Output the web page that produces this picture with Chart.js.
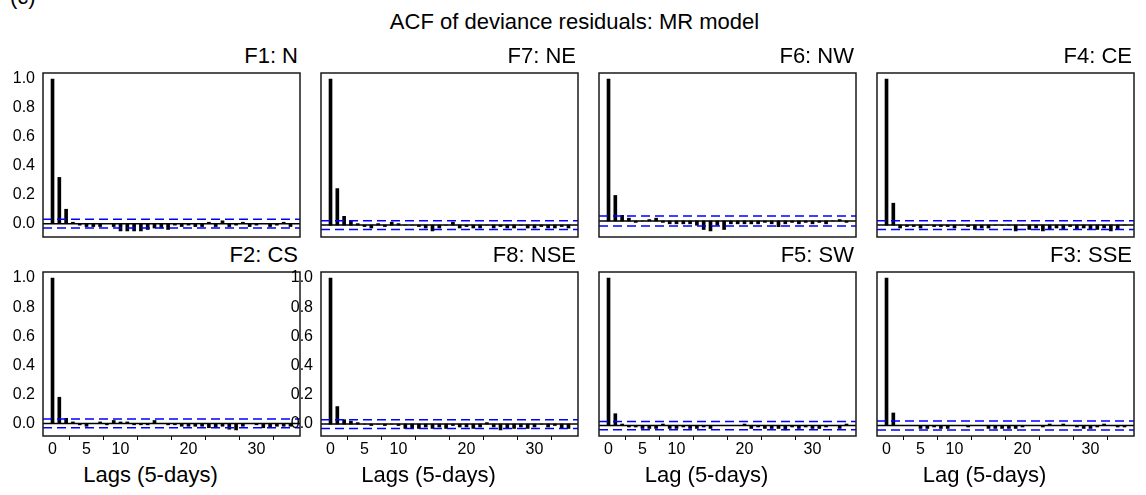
<!DOCTYPE html>
<html>
<head>
<meta charset="utf-8">
<title>ACF of deviance residuals: MR model</title>
<script src="https://cdn.jsdelivr.net/npm/chart.js@4.4.1/dist/chart.umd.min.js"></script>
<style>
  body { margin: 0; background: #fff; }
  #wrap { position: relative; width: 1146px; height: 495px; overflow: hidden; background: #fff; }
  #wrap canvas { position: absolute; }
  .txt { position: absolute; font-family: 'Liberation Sans', Arial, sans-serif; font-size: 22px; line-height: 22px; color: #000; white-space: nowrap; }
</style>
</head>
<body>
<div id="wrap"></div>
<script>
// Lags (5-day steps) and axis ticks
const lags = [0, 1, 2, 3, 4, 5, 6, 7, 8, 9, 10, 11, 12, 13, 14, 15, 16, 17,
              18, 19, 20, 21, 22, 23, 24, 25, 26, 27, 28, 29, 30, 31, 32, 33, 34, 35];
const yTicks = [0, 0.2, 0.4, 0.6, 0.8, 1.0];
const xTicks = [0, 5, 10, 15, 20, 25, 30, 35];
const xLabelled = [0, 5, 10, 20, 30];

// Panel order: top row left to right, then bottom row
const panelTitles = ['F1: N', 'F7: NE', 'F6: NW', 'F4: CE', 'F2: CS', 'F8: NSE', 'F5: SW', 'F3: SSE'];
const lagTitles = ['', '', '', '', 'Lags (5-days)', 'Lags (5-days)', 'Lag (5-days)', 'Lag (5-days)'];

// Autocorrelations of the deviance residuals, one array per region
const acfN   = [1.0, 0.32, 0.10, 0.01, -0.01, -0.02, -0.02, -0.02, 0.0, -0.02, -0.05, -0.05, -0.05, -0.05, -0.04, -0.03, -0.03, -0.04,
                -0.01, -0.02, -0.01, -0.02, -0.02, 0.01, -0.02, 0.02, -0.02, -0.01, 0.01, -0.02, -0.01, 0.0, -0.02, -0.01, 0.01, -0.02];
const acfNE  = [1.0, 0.25, 0.06, 0.03, 0.01, -0.01, -0.02, 0.01, -0.01, 0.02, 0.01, 0.0, 0.0, -0.01, -0.02, -0.04, -0.02, 0.0,
                0.02, -0.02, -0.01, -0.02, -0.02, 0.0, -0.02, -0.01, -0.02, -0.02, 0.0, -0.02, -0.02, -0.01, -0.02, -0.02, -0.01, -0.02];
const acfNW  = [1.0, 0.18, 0.04, 0.02, -0.01, 0.0, 0.01, 0.02, -0.01, -0.02, -0.02, -0.02, -0.02, -0.03, -0.06, -0.07, -0.03, -0.06,
                -0.02, -0.02, -0.02, -0.02, -0.02, -0.01, -0.02, -0.04, -0.02, -0.01, -0.02, -0.01, -0.02, -0.01, -0.02, 0.0, 0.01, -0.01];
const acfCE  = [1.0, 0.15, -0.02, -0.01, -0.01, -0.02, 0.0, -0.01, -0.01, -0.01, -0.02, 0.0, -0.01, -0.03, -0.02, -0.02, 0.0, 0.0,
                0.0, -0.04, 0.0, -0.03, -0.02, -0.04, -0.03, -0.02, -0.03, -0.01, -0.03, -0.02, -0.03, -0.03, -0.02, -0.04, -0.03, 0.0];
const acfCS  = [1.0, 0.18, 0.035, 0.01, -0.01, -0.02, 0.0, 0.01, -0.01, 0.02, 0.01, 0.01, -0.01, -0.01, -0.01, 0.02, 0.0, -0.01,
                -0.01, -0.02, -0.02, -0.02, -0.02, -0.03, -0.03, -0.02, -0.04, -0.045, -0.02, 0.0, -0.01, -0.03, -0.03, -0.02, -0.02, -0.02];
const acfNSE = [1.0, 0.12, 0.03, 0.02, 0.01, 0.0, -0.01, 0.0, -0.01, 0.0, -0.01, -0.03, -0.03, -0.03, -0.02, -0.03, -0.02, -0.03,
                -0.01, -0.02, -0.02, -0.03, -0.02, 0.01, -0.02, -0.04, -0.03, -0.03, -0.02, -0.03, -0.02, 0.0, -0.02, -0.01, -0.03, -0.03];
const acfSW  = [1.0, 0.08, 0.01, -0.01, -0.01, -0.02, -0.02, -0.02, 0.01, -0.02, -0.02, -0.01, -0.02, -0.02, -0.01, -0.02, 0.0, 0.0,
                0.0, 0.0, 0.01, -0.02, -0.01, -0.02, -0.02, -0.02, -0.03, -0.01, -0.02, -0.01, -0.02, -0.02, -0.01, 0.0, -0.02, 0.01];
const acfSSE = [1.0, 0.085, 0.0, 0.0, 0.0, -0.02, -0.02, -0.01, -0.02, -0.02, 0.0, 0.0, -0.01, 0.0, 0.0, -0.02, -0.02, -0.02,
                -0.02, -0.02, -0.01, 0.0, 0.0, -0.01, 0.01, 0.0, 0.01, 0.0, -0.01, -0.02, -0.02, -0.01, 0.01, 0.0, -0.01, -0.01];
const acfSeries = [acfN, acfNE, acfNW, acfCE, acfCS, acfNSE, acfSW, acfSSE];

// 95% bounds (blue dashed lines) per panel
const ciBounds = [0.03, 0.03, 0.036, 0.03, 0.03, 0.03, 0.028, 0.03];

const FONT = "'Liberation Sans', Arial, sans-serif";
const wrap = document.getElementById('wrap');

function addText(text, left, top, align) {
    const d = document.createElement('div');
    d.className = 'txt';
    d.textContent = text;
    d.style.top = top + 'px';
    if (align === 'right') {
        d.style.right = (1146 - left) + 'px';
    } else if (align === 'center') {
        d.style.left = left + 'px';
        d.style.transform = 'translateX(-50%)';
    } else {
        d.style.left = left + 'px';
    }
    wrap.appendChild(d);
}

// Draws the box round each plotting region
const frameBox = {
    id: 'frameBox',
    afterDatasetsDraw(chart) {
        const a = chart.chartArea;
        const ctx = chart.ctx;
        ctx.save();
        ctx.strokeStyle = '#1a1a1a';
        ctx.lineWidth = 1.5;
        ctx.strokeRect(a.left, a.top, a.right - a.left, a.bottom - a.top);
        ctx.restore();
    }
};

// Same axis extension as R (4% on each side)
function padRange(lo, hi) {
    const r = hi - lo;
    return [lo - 0.04 * r, hi + 0.04 * r];
}

// fixed axis size, no extra room reserved for overhanging tick labels
function fixAxis(size, horizontal) {
    return s => {
        if (horizontal) s.height = size; else s.width = size;
        s.paddingTop = 0;
        s.paddingBottom = 0;
        s.paddingLeft = 0;
        s.paddingRight = 0;
    };
}

function makePanel(i) {
    const col = i % 4, row = Math.floor(i / 4);
    const boxL = 43 + col * 278, boxT = row === 0 ? 73 : 272;
    const boxW = 257, boxH = 164;
    const showY = i === 0 || i === 4 || i === 5;
    const showX = row === 1;
    const axisW = 45, axisH = 26;

    const canvas = document.createElement('canvas');
    const w = boxW + axisW + 3, h = boxH + 3 + (showX ? axisH : 3);
    canvas.width = w;
    canvas.height = h;
    canvas.style.left = (boxL - axisW) + 'px';
    canvas.style.top = (boxT - 3) + 'px';
    wrap.appendChild(canvas);

    const vals = acfSeries[i];
    const ci = ciBounds[i];
    const [xMin, xMax] = padRange(lags[0], lags[lags.length - 1]);
    const [yMin, yMax] = padRange(Math.min(-ci, ...vals), Math.max(ci, ...vals));

    new Chart(canvas, {
        type: 'bar',
        data: {
            datasets: [
                {
                    type: 'line',
                    data: [{ x: xMin, y: 0 }, { x: xMax, y: 0 }],
                    borderColor: '#000',
                    borderWidth: 1.5,
                    pointRadius: 0,
                    order: 0
                },
                {
                    type: 'line',
                    data: [{ x: xMin, y: ci }, { x: xMax, y: ci }],
                    borderColor: '#0000ff',
                    borderWidth: 1.5,
                    borderDash: [9, 5],
                    pointRadius: 0,
                    order: 0
                },
                {
                    type: 'line',
                    data: [{ x: xMin, y: -ci }, { x: xMax, y: -ci }],
                    borderColor: '#0000ff',
                    borderWidth: 1.5,
                    borderDash: [9, 5],
                    pointRadius: 0,
                    order: 0
                },
                {
                    type: 'bar',
                    data: lags.map((l, k) => ({ x: l, y: vals[k] })),
                    backgroundColor: '#000',
                    barThickness: 3,
                    order: 1
                }
            ]
        },
        options: {
            responsive: false,
            animation: false,
            layout: {
                autoPadding: false,
                padding: { left: showY ? 0 : axisW, top: 3, right: 3, bottom: showX ? 0 : 3 }
            },
            plugins: {
                legend: { display: false },
                tooltip: { enabled: false }
            },
            scales: {
                x: {
                    type: 'linear',
                    min: xMin,
                    max: xMax,
                    offset: false,
                    display: showX,
                    afterFit: fixAxis(showX ? axisH : 0, true),
                    afterBuildTicks: s => { s.ticks = xTicks.map(v => ({ value: v })); },
                    grid: { drawOnChartArea: false, drawTicks: true, tickLength: 4, color: '#000', lineWidth: 1 },
                    border: { display: false },
                    ticks: {
                        autoSkip: false,
                        maxRotation: 0,
                        padding: 0,
                        color: '#000',
                        font: { family: FONT, size: 16 },
                        callback: v => xLabelled.includes(v) ? String(v) : ''
                    }
                },
                y: {
                    min: yMin,
                    max: yMax,
                    display: showY,
                    afterFit: fixAxis(showY ? axisW : 0, false),
                    afterBuildTicks: s => { s.ticks = yTicks.map(v => ({ value: v })); },
                    grid: { display: false, drawTicks: false },
                    border: { display: false },
                    ticks: {
                        padding: 8,
                        color: '#000',
                        font: { family: FONT, size: 16 },
                        callback: v => v.toFixed(1)
                    }
                }
            }
        },
        plugins: [frameBox]
    });

    // panel title above the box, axis label under the bottom row
    addText(panelTitles[i], boxL + boxW - 2, boxT - 27.6, 'right');
    if (lagTitles[i]) {
        addText(lagTitles[i], boxL + boxW / 2 - 21, 464.4, 'center');
    }
}

addText('(c)', 10, -13.6, 'left');
addText('ACF of deviance residuals: MR model', 574.5, 11.4, 'center');

for (let i = 0; i < 8; i++) {
    makePanel(i);
}
</script>
</body>
</html>
